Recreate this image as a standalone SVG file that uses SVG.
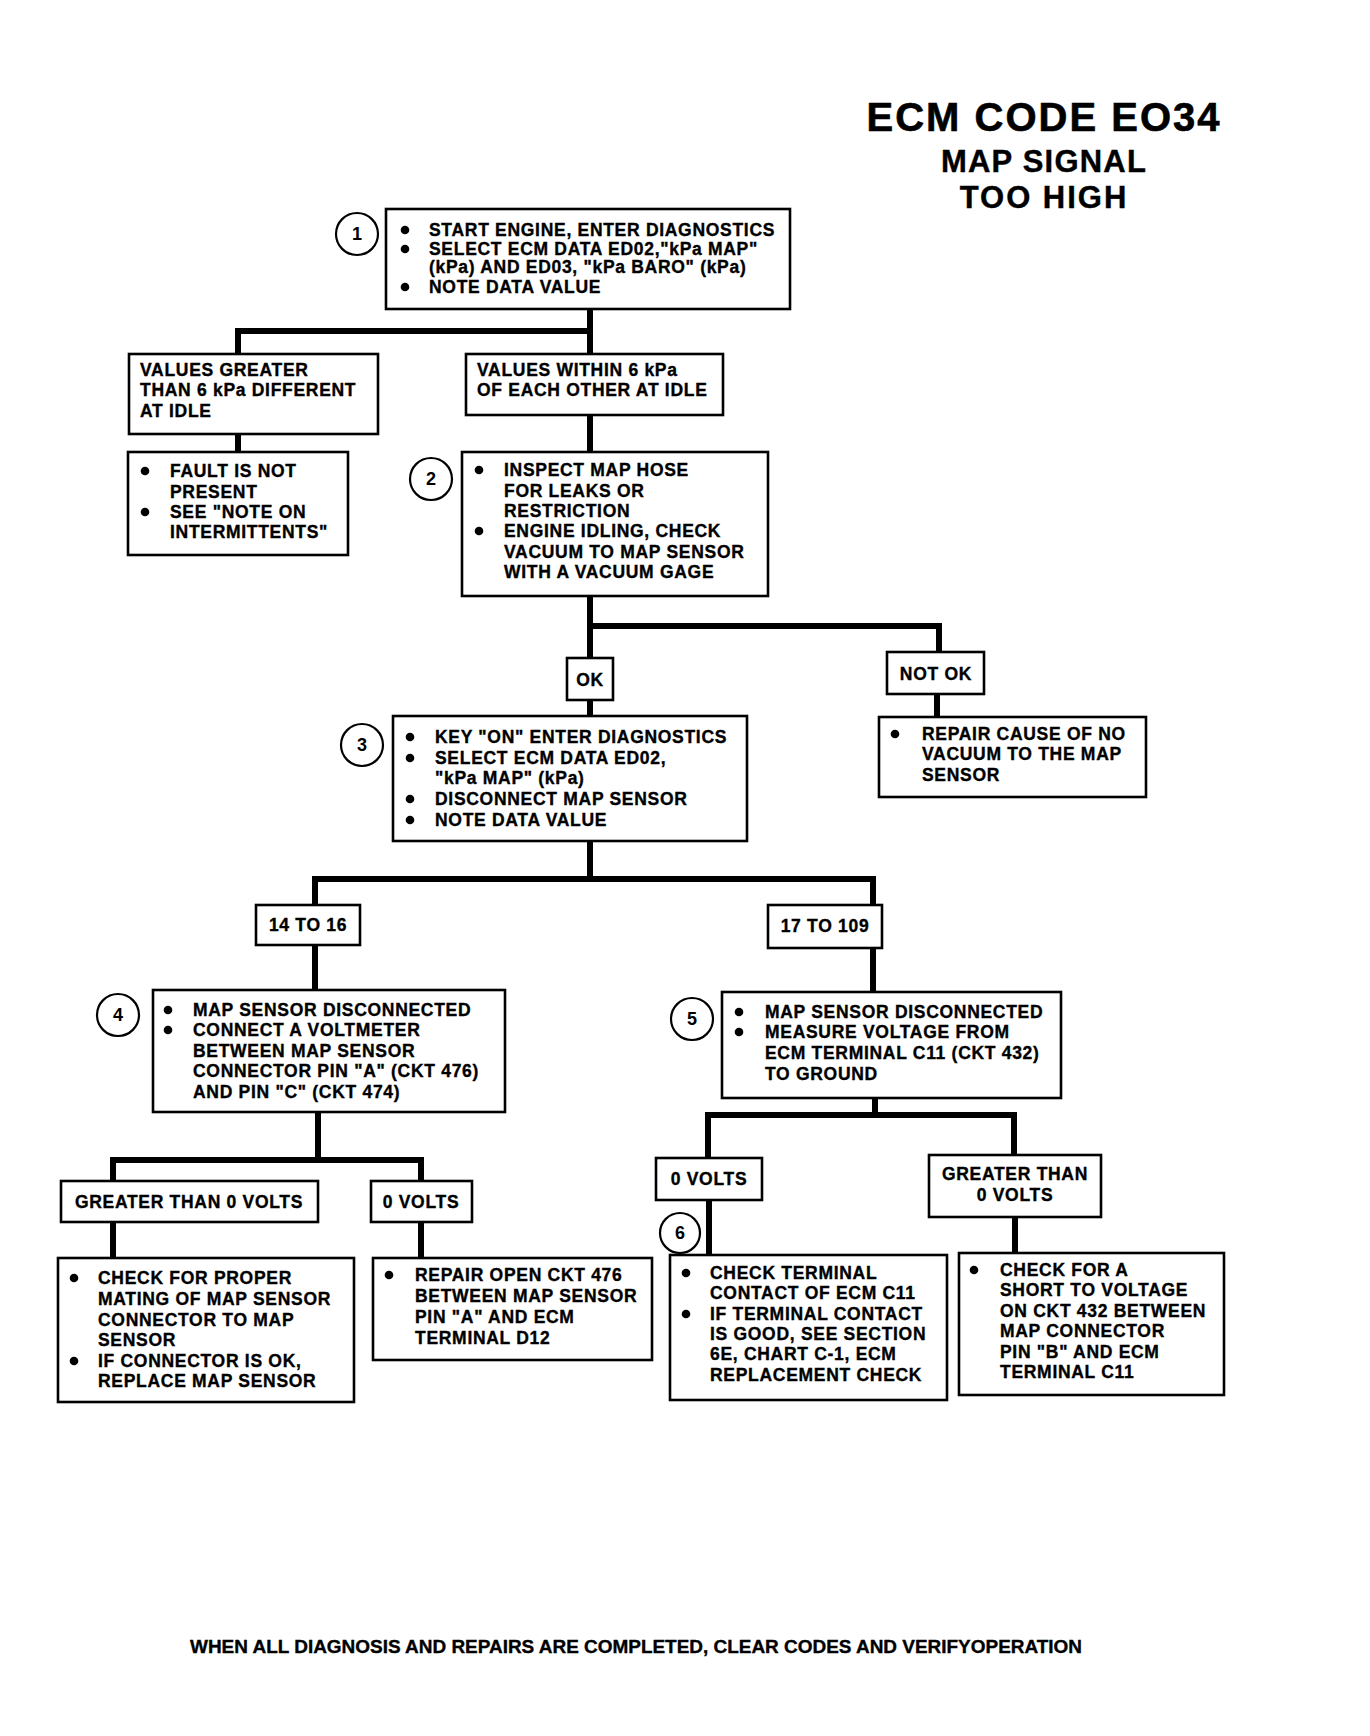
<svg xmlns="http://www.w3.org/2000/svg" width="1370" height="1736" viewBox="0 0 1370 1736">
<style>
.bx{fill:#fff;stroke:#000;stroke-width:2.6}
.cn{fill:none;stroke:#000;stroke-width:6;stroke-linecap:square;stroke-linejoin:miter}
.ci{fill:#fff;stroke:#000;stroke-width:2.2}
.t{font-family:"Liberation Sans",Arial,sans-serif;font-weight:bold;font-size:17.5px;letter-spacing:0.7px;fill:#000;stroke:#000;stroke-width:0.35}
.m{text-anchor:middle}
.n{font-family:"Liberation Sans",Arial,sans-serif;font-weight:bold;font-size:18px;fill:#000;text-anchor:middle}
.bu{fill:#000}
.h1{font-family:"Liberation Sans",Arial,sans-serif;font-weight:bold;font-size:40px;letter-spacing:2px;text-anchor:middle;stroke:#000;stroke-width:0.6}
.h2{font-family:"Liberation Sans",Arial,sans-serif;font-weight:bold;font-size:31px;letter-spacing:1.2px;text-anchor:middle;stroke:#000;stroke-width:0.4}
</style>
<rect width="1370" height="1736" fill="#fff"/>
<g id="title">
<text class="h1" x="1044" y="131">ECM CODE EO34</text>
<text class="h2" x="1044" y="172">MAP SIGNAL</text>
<text class="h2" x="1044" y="208" style="letter-spacing:2px">TOO HIGH</text>
</g>
<g id="connectors">
<path class="cn" d="M590 309 V354"/>
<path class="cn" d="M238 354 V331 H590"/>
<path class="cn" d="M238 434 V452"/>
<path class="cn" d="M590 415 V452"/>
<path class="cn" d="M590 596 V658"/>
<path class="cn" d="M590 626 H939 V652"/>
<path class="cn" d="M590 700 V716"/>
<path class="cn" d="M937 694 V717"/>
<path class="cn" d="M590 841 V879"/>
<path class="cn" d="M315 905 V879 H873 V905"/>
<path class="cn" d="M315 945 V990"/>
<path class="cn" d="M873 948 V992"/>
<path class="cn" d="M318 1112 V1160"/>
<path class="cn" d="M113 1181 V1160 H421 V1181"/>
<path class="cn" d="M113 1222 V1258"/>
<path class="cn" d="M421 1222 V1258"/>
<path class="cn" d="M875 1098 V1115"/>
<path class="cn" d="M708 1158 V1115 H1014 V1155"/>
<path class="cn" d="M709 1200 V1255"/>
<path class="cn" d="M1015 1217 V1253"/>
</g>
<g id="step1">
<circle class="ci" cx="357" cy="234" r="21"/>
<text class="n" x="357" y="240">1</text>
<rect class="bx" x="386" y="209" width="404" height="100"/>
<circle class="bu" cx="405" cy="230" r="4.3"/>
<circle class="bu" cx="405" cy="249" r="4.3"/>
<circle class="bu" cx="405" cy="287" r="4.3"/>
<text class="t" x="429" y="236">START ENGINE, ENTER DIAGNOSTICS</text>
<text class="t" x="429" y="255">SELECT ECM DATA ED02,"kPa MAP"</text>
<text class="t" x="429" y="273">(kPa) AND ED03, "kPa BARO" (kPa)</text>
<text class="t" x="429" y="293">NOTE DATA VALUE</text>
</g>
<g id="values-greater">
<rect class="bx" x="129" y="354" width="249" height="80"/>
<text class="t" x="140" y="376">VALUES GREATER</text>
<text class="t" x="140" y="396">THAN 6 kPa DIFFERENT</text>
<text class="t" x="140" y="417">AT IDLE</text>
</g>
<g id="values-within">
<rect class="bx" x="466" y="354" width="257" height="61"/>
<text class="t" x="477" y="376">VALUES WITHIN 6 kPa</text>
<text class="t" x="477" y="396">OF EACH OTHER AT IDLE</text>
</g>
<g id="fault">
<rect class="bx" x="128" y="452" width="220" height="103"/>
<circle class="bu" cx="145" cy="471" r="4.3"/>
<circle class="bu" cx="145" cy="512" r="4.3"/>
<text class="t" x="170" y="477">FAULT IS NOT</text>
<text class="t" x="170" y="498">PRESENT</text>
<text class="t" x="170" y="518">SEE "NOTE ON</text>
<text class="t" x="170" y="538">INTERMITTENTS"</text>
</g>
<g id="step2">
<circle class="ci" cx="431" cy="479" r="21"/>
<text class="n" x="431" y="485">2</text>
<rect class="bx" x="462" y="452" width="306" height="144"/>
<circle class="bu" cx="479" cy="470" r="4.3"/>
<circle class="bu" cx="479" cy="531" r="4.3"/>
<text class="t" x="504" y="476">INSPECT MAP HOSE</text>
<text class="t" x="504" y="497">FOR LEAKS OR</text>
<text class="t" x="504" y="517">RESTRICTION</text>
<text class="t" x="504" y="537">ENGINE IDLING, CHECK</text>
<text class="t" x="504" y="558">VACUUM TO MAP SENSOR</text>
<text class="t" x="504" y="578">WITH A VACUUM GAGE</text>
</g>
<g id="ok">
<rect class="bx" x="567" y="658" width="46" height="42"/>
<text class="t m" x="590" y="686">OK</text>
</g>
<g id="not-ok">
<rect class="bx" x="887" y="652" width="97" height="42"/>
<text class="t m" x="936" y="680">NOT OK</text>
</g>
<g id="step3">
<circle class="ci" cx="362" cy="745" r="21"/>
<text class="n" x="362" y="751">3</text>
<rect class="bx" x="393" y="716" width="354" height="125"/>
<circle class="bu" cx="410" cy="737" r="4.3"/>
<circle class="bu" cx="410" cy="758" r="4.3"/>
<circle class="bu" cx="410" cy="799" r="4.3"/>
<circle class="bu" cx="410" cy="820" r="4.3"/>
<text class="t" x="435" y="743">KEY "ON" ENTER DIAGNOSTICS</text>
<text class="t" x="435" y="764">SELECT ECM DATA ED02,</text>
<text class="t" x="435" y="784">"kPa MAP" (kPa)</text>
<text class="t" x="435" y="805">DISCONNECT MAP SENSOR</text>
<text class="t" x="435" y="826">NOTE DATA VALUE</text>
</g>
<g id="repair-vacuum">
<rect class="bx" x="879" y="717" width="267" height="80"/>
<circle class="bu" cx="895" cy="734" r="4.3"/>
<text class="t" x="922" y="740">REPAIR CAUSE OF NO</text>
<text class="t" x="922" y="760">VACUUM TO THE MAP</text>
<text class="t" x="922" y="781">SENSOR</text>
</g>
<g id="r14-16">
<rect class="bx" x="256" y="905" width="104" height="40"/>
<text class="t m" x="308" y="931">14 TO 16</text>
</g>
<g id="r17-109">
<rect class="bx" x="768" y="905" width="114" height="43"/>
<text class="t m" x="825" y="932">17 TO 109</text>
</g>
<g id="step4">
<circle class="ci" cx="118" cy="1015" r="21"/>
<text class="n" x="118" y="1021">4</text>
<rect class="bx" x="153" y="990" width="352" height="122"/>
<circle class="bu" cx="168" cy="1010" r="4.3"/>
<circle class="bu" cx="168" cy="1030" r="4.3"/>
<text class="t" x="193" y="1016">MAP SENSOR DISCONNECTED</text>
<text class="t" x="193" y="1036">CONNECT A VOLTMETER</text>
<text class="t" x="193" y="1057">BETWEEN MAP SENSOR</text>
<text class="t" x="193" y="1077">CONNECTOR PIN "A" (CKT 476)</text>
<text class="t" x="193" y="1098">AND  PIN "C" (CKT 474)</text>
</g>
<g id="step5">
<circle class="ci" cx="692" cy="1019" r="21"/>
<text class="n" x="692" y="1025">5</text>
<rect class="bx" x="722" y="992" width="339" height="106"/>
<circle class="bu" cx="739" cy="1012" r="4.3"/>
<circle class="bu" cx="739" cy="1032" r="4.3"/>
<text class="t" x="765" y="1018">MAP SENSOR DISCONNECTED</text>
<text class="t" x="765" y="1038">MEASURE VOLTAGE FROM</text>
<text class="t" x="765" y="1059">ECM TERMINAL C11 (CKT 432)</text>
<text class="t" x="765" y="1080">TO GROUND</text>
</g>
<g id="gt0v-left">
<rect class="bx" x="61" y="1181" width="257" height="41"/>
<text class="t m" x="189" y="1208">GREATER THAN 0 VOLTS</text>
</g>
<g id="zero-v-left">
<rect class="bx" x="371" y="1181" width="101" height="41"/>
<text class="t m" x="421" y="1208">0 VOLTS</text>
</g>
<g id="check-mating">
<rect class="bx" x="58" y="1258" width="296" height="144"/>
<circle class="bu" cx="74" cy="1278" r="4.3"/>
<circle class="bu" cx="74" cy="1361" r="4.3"/>
<text class="t" x="98" y="1284">CHECK FOR PROPER</text>
<text class="t" x="98" y="1305">MATING OF MAP SENSOR</text>
<text class="t" x="98" y="1326">CONNECTOR TO MAP</text>
<text class="t" x="98" y="1346">SENSOR</text>
<text class="t" x="98" y="1367">IF CONNECTOR IS OK,</text>
<text class="t" x="98" y="1387">REPLACE MAP SENSOR</text>
</g>
<g id="repair-open">
<rect class="bx" x="373" y="1258" width="279" height="102"/>
<circle class="bu" cx="389" cy="1275" r="4.3"/>
<text class="t" x="415" y="1281">REPAIR OPEN CKT 476</text>
<text class="t" x="415" y="1302">BETWEEN MAP SENSOR</text>
<text class="t" x="415" y="1323">PIN "A" AND ECM</text>
<text class="t" x="415" y="1344">TERMINAL D12</text>
</g>
<g id="zero-v-right">
<rect class="bx" x="656" y="1158" width="106" height="42"/>
<text class="t m" x="709" y="1185">0 VOLTS</text>
</g>
<g id="gt0v-right">
<rect class="bx" x="929" y="1155" width="172" height="62"/>
<text class="t m" x="1015" y="1180">GREATER THAN</text>
<text class="t m" x="1015" y="1201">0 VOLTS</text>
</g>
<g id="step6">
<circle class="ci" cx="680" cy="1233" r="20"/>
<text class="n" x="680" y="1239">6</text>
<rect class="bx" x="670" y="1255" width="277" height="145"/>
<circle class="bu" cx="686" cy="1273" r="4.3"/>
<circle class="bu" cx="686" cy="1314" r="4.3"/>
<text class="t" x="710" y="1279">CHECK TERMINAL</text>
<text class="t" x="710" y="1299">CONTACT OF ECM C11</text>
<text class="t" x="710" y="1320">IF TERMINAL CONTACT</text>
<text class="t" x="710" y="1340">IS GOOD,  SEE SECTION</text>
<text class="t" x="710" y="1360">6E, CHART C-1, ECM</text>
<text class="t" x="710" y="1381">REPLACEMENT CHECK</text>
</g>
<g id="check-short">
<rect class="bx" x="959" y="1253" width="265" height="142"/>
<circle class="bu" cx="974" cy="1270" r="4.3"/>
<text class="t" x="1000" y="1276">CHECK FOR A</text>
<text class="t" x="1000" y="1296">SHORT TO VOLTAGE</text>
<text class="t" x="1000" y="1317">ON CKT 432 BETWEEN</text>
<text class="t" x="1000" y="1337">MAP CONNECTOR</text>
<text class="t" x="1000" y="1358">PIN "B" AND ECM</text>
<text class="t" x="1000" y="1378">TERMINAL C11</text>
</g>
<g id="footer">
<text class="t" x="190" y="1653" style="font-size:18px;letter-spacing:0" textLength="892" lengthAdjust="spacingAndGlyphs">WHEN ALL DIAGNOSIS AND REPAIRS ARE COMPLETED, CLEAR CODES AND VERIFYOPERATION</text>
</g>
</svg>
